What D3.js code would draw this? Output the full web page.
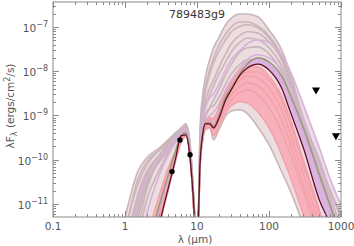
<!DOCTYPE html>
<html>
<head>
<meta charset="utf-8">
<script src="https://cdn.jsdelivr.net/npm/d3@7"></script>
<style>
body { margin: 0; background: #fff; }
text { font-family: 'DejaVu Sans', sans-serif; }
</style>
</head>
<body>
<div id="chart"></div>
<script>
(function () {'use strict';

var title = '789483g9';

// wavelength grid (micron) shared by all model SEDs
var wavelengths = [1, 1.5, 2, 3, 4, 5, 6, 7, 8, 9, 9.5, 10, 10.5, 11, 12, 13, 15, 17, 20, 25, 30, 40, 50, 70, 100, 150, 200, 300, 500, 700, 1000];

// log10 of lambda*F_lambda (ergs/cm2/s)
var bestFit = [-14, -13.84, -12.94, -11.47, -10.63, -10.00, -9.46, -9.44, -9.96, -11.02, -11.70, -12.03, -11.24, -10.12, -9.44, -9.19, -9.19, -9.28, -9.08, -8.65, -8.42, -8.08, -7.93, -7.84, -7.97, -8.38, -8.94, -9.73, -10.91, -11.47, -12.49];
var secondFit = [-14, -13.16, -12.15, -11.02, -10.34, -9.82, -9.46, -9.39, -9.89, -10.91, -11.58, -12.03, -11.18, -10.00, -9.39, -9.17, -9.17, -9.26, -9.03, -8.58, -8.38, -8.04, -7.84, -7.70, -7.79, -8.11, -8.56, -9.28, -10.34, -11.02, -11.76];

var greyModels = [
	[-11.58, -10.57, -10.12, -9.78, -9.55, -9.39, -9.28, -9.19, -9.60, -10.79, -11.47, -11.92, -11.02, -9.33, -8.53, -8.15, -7.74, -7.47, -7.25, -6.95, -6.80, -6.71, -6.71, -6.77, -7.07, -7.52, -8.08, -9.10, -10.00, -10.68, -11.24],
	[-12.03, -10.79, -10.27, -9.89, -9.66, -9.48, -9.35, -9.26, -9.69, -10.86, -11.54, -11.99, -11.13, -9.55, -8.76, -8.38, -7.97, -7.70, -7.43, -7.16, -7.00, -6.89, -6.89, -6.98, -7.20, -7.65, -8.20, -9.05, -10.05, -10.68, -11.31],
	[-12.26, -10.91, -10.34, -9.89, -9.62, -9.44, -9.33, -9.26, -9.73, -10.91, -11.58, -12.03, -11.18, -9.66, -8.87, -8.47, -8.08, -7.81, -7.56, -7.29, -7.11, -6.98, -6.95, -7.02, -7.25, -7.70, -8.24, -9.14, -10.23, -10.86, -11.54],
	[-12.71, -11.13, -10.50, -10.05, -9.78, -9.55, -9.37, -9.30, -9.75, -10.95, -11.63, -12.08, -11.24, -9.78, -9.05, -8.69, -8.38, -8.20, -7.93, -7.61, -7.38, -7.18, -7.11, -7.14, -7.34, -7.74, -8.29, -9.21, -10.27, -10.97, -11.70],
	[-13.16, -11.81, -10.91, -10.23, -9.82, -9.55, -9.39, -9.33, -9.78, -11.02, -11.70, -12.15, -11.24, -9.89, -9.14, -8.83, -8.53, -8.33, -8.08, -7.79, -7.56, -7.34, -7.25, -7.29, -7.47, -7.88, -8.38, -9.28, -10.34, -11.02, -11.70],
	[-13.16, -11.58, -10.68, -10.00, -9.69, -9.48, -9.35, -9.28, -9.78, -11.02, -11.70, -12.15, -11.31, -10.00, -9.33, -9.05, -8.83, -8.65, -8.42, -8.08, -7.84, -7.56, -7.47, -7.45, -7.61, -8.02, -8.51, -9.39, -10.45, -11.18, -11.92],
	[-11.70, -10.45, -10.05, -9.78, -9.60, -9.44, -9.33, -9.26, -9.71, -10.91, -11.58, -12.03, -11.24, -9.96, -9.28, -9.01, -8.83, -8.78, -8.60, -8.29, -8.06, -7.84, -7.74, -7.79, -7.97, -8.38, -8.87, -9.73, -10.79, -11.47, -12.26],
	[-11.31, -10.27, -9.96, -9.73, -9.55, -9.42, -9.33, -9.23, -9.66, -10.91, -11.58, -12.03, -11.36, -10.12, -9.51, -9.28, -9.14, -9.28, -9.10, -8.78, -8.60, -8.42, -8.38, -8.42, -8.65, -9.14, -9.66, -10.50, -11.54, -12.26, -13.16],
	[-12.94, -11.36, -10.57, -10.00, -9.73, -9.53, -9.39, -9.33, -9.80, -11.04, -11.72, -12.17, -11.40, -10.12, -9.46, -9.23, -9.14, -9.23, -9.01, -8.65, -8.47, -8.29, -8.24, -8.33, -8.56, -9.05, -9.55, -10.41, -11.47, -12.21, -13.16],
	[-13.16, -11.24, -10.45, -9.96, -9.73, -9.55, -9.42, -9.35, -9.82, -11.09, -11.76, -12.21, -11.47, -10.23, -9.55, -9.33, -9.28, -9.55, -9.33, -9.01, -8.90, -8.87, -8.96, -9.26, -9.66, -10.27, -10.72, -11.47, -12.49, -13.16, -14.07]
];

var lilacModels = [
	[-12.49, -11.02, -10.41, -9.96, -9.71, -9.51, -9.37, -9.30, -9.73, -10.95, -11.63, -12.08, -11.22, -9.78, -9.10, -8.83, -8.60, -8.51, -8.31, -7.97, -7.74, -7.52, -7.38, -7.29, -7.36, -7.63, -8.02, -8.76, -9.73, -10.41, -11.02],
	[-13.61, -12.26, -11.24, -10.34, -9.89, -9.62, -9.44, -9.37, -9.82, -11.09, -11.76, -12.21, -11.40, -10.12, -9.39, -9.14, -9.01, -8.92, -8.76, -8.42, -8.20, -7.93, -7.79, -7.74, -7.86, -8.20, -8.65, -9.44, -10.45, -11.09, -11.81],
	[-14, -13.16, -12.26, -11.13, -10.45, -9.89, -9.51, -9.42, -9.89, -11.02, -11.72, -12.17, -11.31, -10.05, -9.37, -9.14, -9.10, -9.17, -8.92, -8.51, -8.26, -7.93, -7.74, -7.63, -7.70, -7.97, -8.38, -9.10, -10.12, -10.79, -11.54]
];

var pinkModels = [
	[-14, -12.71, -11.81, -10.79, -10.18, -9.82, -9.55, -9.44, -9.89, -11.13, -11.81, -12.26, -11.47, -10.18, -9.46, -9.21, -9.10, -9.05, -8.87, -8.56, -8.33, -8.11, -8.02, -8.02, -8.20, -8.65, -9.21, -10.12, -11.24, -12.03, -12.94],
	[-14, -13.84, -12.82, -11.40, -10.59, -9.96, -9.48, -9.44, -9.96, -11.13, -11.81, -12.21, -11.40, -10.12, -9.44, -9.19, -9.14, -9.21, -8.99, -8.65, -8.42, -8.20, -8.11, -8.15, -8.38, -8.87, -9.44, -10.34, -11.47, -12.26, -13.16],
	[-14, -13.61, -12.71, -11.36, -10.57, -10.00, -9.55, -9.46, -9.93, -11.13, -11.81, -12.21, -11.40, -10.14, -9.42, -9.17, -9.05, -9.10, -8.83, -8.47, -8.26, -7.97, -7.88, -7.90, -8.11, -8.56, -9.10, -10.00, -11.13, -11.92, -12.82],
	[-14, -13.39, -12.49, -11.24, -10.57, -10.00, -9.62, -9.48, -9.91, -11.13, -11.81, -12.26, -11.45, -10.18, -9.51, -9.23, -9.17, -9.28, -9.05, -8.74, -8.53, -8.33, -8.26, -8.33, -8.58, -9.10, -9.66, -10.57, -11.63, -12.44, -13.39],
	[-14, -13.84, -12.94, -11.47, -10.68, -10.05, -9.60, -9.46, -9.96, -11.13, -11.81, -12.26, -11.40, -10.23, -9.55, -9.28, -9.21, -9.33, -9.14, -8.83, -8.65, -8.47, -8.42, -8.53, -8.83, -9.37, -9.89, -10.72, -11.81, -12.60, -13.61],
	[-14, -13.84, -12.94, -11.47, -10.68, -10.05, -9.60, -9.46, -9.96, -11.13, -11.81, -12.26, -11.40, -10.23, -9.55, -9.30, -9.26, -9.46, -9.26, -8.94, -8.78, -8.69, -8.72, -8.92, -9.28, -9.89, -10.41, -11.24, -12.30, -13.05, -13.95]
];

// measured fluxes and upper limits
var photLambda = [4.5, 5.8, 8.0];
var photFlux = [5.4e-11, 2.8e-10, 1.3e-10];
var limitLambda = [450, 850];
var limitFlux = [3.8e-9, 3.5e-10];

var xTickLabels = ['0.1', '1', '10', '100', '1000'];
var yTickPowers = [-11, -10, -9, -8, -7];

var W = 354, H = 246,
	plot = {left: 53, right: 341, top: 2, bottom: 217},
	axisColor = '#8a8a8a',
	labelColor = '#555';

var x = d3.scaleLog().domain([0.1, 1000]).range([plot.left, plot.right]),
	y = d3.scaleLog().domain([5.1e-12, 3.65e-7]).range([plot.bottom, plot.top]);

var svg = d3.select('#chart')
	.append('svg')
		.attr('width', W)
		.attr('height', H);

svg.append('clipPath')
	.attr('id', 'clip')
	.append('rect')
		.attr('x', plot.left)
		.attr('y', plot.top)
		.attr('width', plot.right - plot.left)
		.attr('height', plot.bottom - plot.top);

function toPoints(logs) {
	return logs.map(function (v, i) { return [wavelengths[i], Math.pow(10, v)]; });
}

var line = d3.line()
	.x(function (d) { return x(d[0]); })
	.y(function (d) { return y(d[1]); })
	.curve(d3.curveMonotoneX);

var area = d3.area()
	.x(function (d) { return x(d[0]); })
	.y0(function (d) { return y(d[1]); })
	.y1(function (d) { return y(d[2]); })
	.curve(d3.curveMonotoneX);

function envelope(groups) {
	return wavelengths.map(function (lam, i) {
		var vals = groups.map(function (m) { return m[i]; });
		return [lam, Math.pow(10, d3.min(vals)), Math.pow(10, d3.max(vals))];
	});
}

var models = svg.append('g').attr('clip-path', 'url(#clip)');
var allModels = greyModels.concat(lilacModels, pinkModels);

// NOTE: drawing order matters, pale fill first then the model lines
models.append('path')
	.attr('d', area(envelope(allModels)))
	.attr('fill', '#ecdde0');

models.selectAll('.grey')
	.data(greyModels)
	.enter().append('path')
		.attr('class', 'grey')
		.attr('d', function (m) { return line(toPoints(m)); })
		.attr('fill', 'none')
		.attr('stroke', '#cab5b9')
		.attr('stroke-width', 1.6);

models.append('path')
	.attr('d', area(envelope(pinkModels)))
	.attr('fill', '#f7b1ba');

models.append('path')
	.attr('d', area(envelope([bestFit, secondFit])))
	.attr('fill', '#ddb3e1');

models.selectAll('.lilac')
	.data(lilacModels)
	.enter().append('path')
		.attr('class', 'lilac')
		.attr('d', function (m) { return line(toPoints(m)); })
		.attr('fill', 'none')
		.attr('stroke', '#d9b0dc')
		.attr('stroke-width', 1.6);

models.selectAll('.pink')
	.data(pinkModels)
	.enter().append('path')
		.attr('class', 'pink')
		.attr('d', function (m) { return line(toPoints(m)); })
		.attr('fill', 'none')
		.attr('stroke', '#f3a0ab')
		.attr('stroke-width', 1.4);

models.append('path')
	.attr('d', line(toPoints(secondFit)))
	.attr('fill', 'none')
	.attr('stroke', '#9a9c78')
	.attr('stroke-width', 1.6);

models.append('path')
	.attr('d', line(toPoints(bestFit)))
	.attr('fill', 'none')
	.attr('stroke', '#5a0a20')
	.attr('stroke-width', 1.2);

// frame and inward ticks
svg.append('rect')
	.attr('x', plot.left)
	.attr('y', plot.top)
	.attr('width', plot.right - plot.left)
	.attr('height', plot.bottom - plot.top)
	.attr('fill', 'none')
	.attr('stroke', axisColor);

function isDecade(v) {
	var l = Math.log10(v);
	return Math.abs(l - Math.round(l)) < 1e-6;
}

var ticks = svg.append('g').attr('stroke', axisColor).attr('stroke-width', 1);

x.ticks().forEach(function (v) {
	var px = Math.round(x(v)) + 0.5, len = isDecade(v) ? 6 : 3;
	ticks.append('line').attr('x1', px).attr('x2', px).attr('y1', plot.bottom).attr('y2', plot.bottom - len);
	ticks.append('line').attr('x1', px).attr('x2', px).attr('y1', plot.top).attr('y2', plot.top + len);
});

y.ticks().forEach(function (v) {
	var py = Math.round(y(v)) + 0.5, len = isDecade(v) ? 6 : 3;
	ticks.append('line').attr('y1', py).attr('y2', py).attr('x1', plot.left).attr('x2', plot.left + len);
	ticks.append('line').attr('y1', py).attr('y2', py).attr('x1', plot.right).attr('x2', plot.right - len);
});

// tick labels
svg.selectAll('.xlab')
	.data(xTickLabels)
	.enter().append('text')
		.attr('class', 'xlab')
		.attr('x', function (d) { return x(+d); })
		.attr('y', 230)
		.attr('text-anchor', 'middle')
		.attr('font-size', 10.5)
		.attr('fill', labelColor)
		.text(function (d) { return d; });

var ylab = svg.selectAll('.ylab')
	.data(yTickPowers)
	.enter().append('text')
		.attr('class', 'ylab')
		.attr('x', 48)
		.attr('y', function (p) { return y(Math.pow(10, p)) + 5; })
		.attr('text-anchor', 'end')
		.attr('font-size', 10.5)
		.attr('fill', labelColor);
ylab.append('tspan').text('10');
ylab.append('tspan')
	.attr('dy', -5)
	.attr('font-size', 8)
	.text(function (p) { return '\u2212' + Math.abs(p); });

// data points
svg.selectAll('.phot')
	.data(photLambda)
	.enter().append('circle')
		.attr('class', 'phot')
		.attr('cx', function (d) { return x(d); })
		.attr('cy', function (d, i) { return y(photFlux[i]); })
		.attr('r', 2.7)
		.attr('fill', '#000');

svg.selectAll('.limit')
	.data(limitLambda)
	.enter().append('path')
		.attr('class', 'limit')
		.attr('d', d3.symbol().type(d3.symbolTriangle).size(28))
		.attr('transform', function (d, i) {
			return 'translate(' + x(d) + ',' + y(limitFlux[i]) + ') rotate(180)';
		})
		.attr('fill', '#000');

// titles
svg.append('text')
	.attr('x', (plot.left + plot.right) / 2)
	.attr('y', 18)
	.attr('text-anchor', 'middle')
	.attr('font-size', 11)
	.attr('fill', '#333')
	.text(title);

svg.append('text')
	.attr('x', 195)
	.attr('y', 243)
	.attr('text-anchor', 'middle')
	.attr('font-size', 10.5)
	.attr('fill', labelColor)
	.text('\u03bb (\u03bcm)');

var yt = svg.append('text')
	.attr('transform', 'translate(14,106) rotate(-90)')
	.attr('text-anchor', 'middle')
	.attr('font-size', 10.5)
	.attr('fill', labelColor);
yt.append('tspan').text('\u03bbF');
yt.append('tspan').attr('dy', 3).attr('font-size', 8).text('\u03bb');
yt.append('tspan').attr('dy', -3).text(' (ergs/cm');
yt.append('tspan').attr('dy', -4).attr('font-size', 8).text('2');
yt.append('tspan').attr('dy', 4).text('/s)');

})();
</script>
</body>
</html>
